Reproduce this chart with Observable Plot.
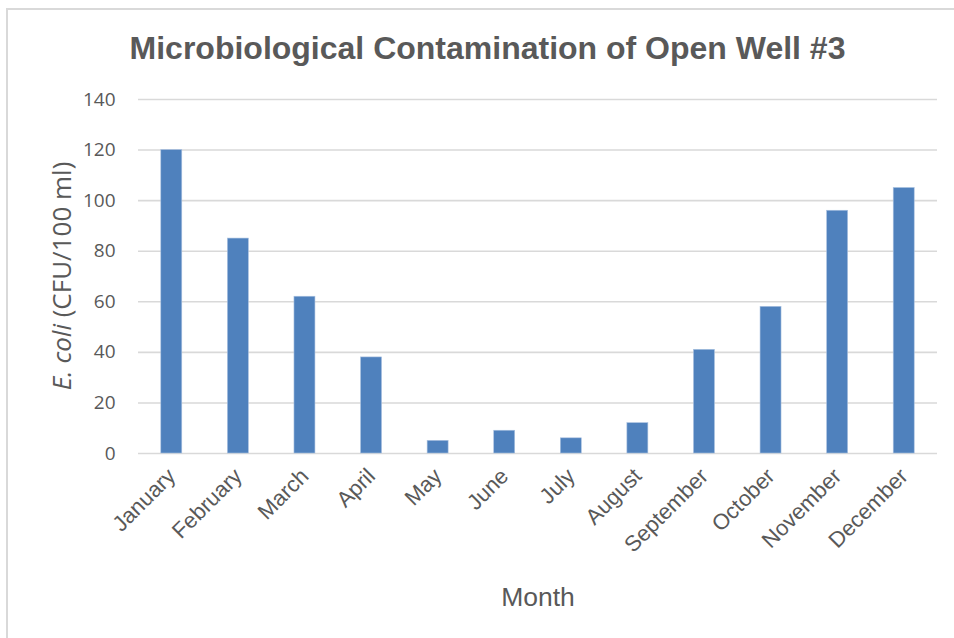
<!DOCTYPE html>
<html>
<head>
<meta charset="utf-8">
<script src="https://cdn.jsdelivr.net/npm/d3@7"></script>
<script src="https://cdn.jsdelivr.net/npm/@observablehq/plot@0.6"></script>
<style>
  html, body { margin: 0; padding: 0; background: #fff; }
  #chart { position: relative; width: 954px; height: 638px; overflow: hidden; }
  #border { position: absolute; left: 6px; top: 8px; width: 1000px; height: 700px;
            border-left: 2px solid #d9d9d9; border-top: 2px solid #d9d9d9; }
  #chart svg { position: absolute; left: 0; top: 0; }
</style>
</head>
<body>
<div id="chart"><div id="border"></div></div>
<script>
// Monthly E. coli counts at Open Well #3
const months = ["January", "February", "March", "April", "May", "June",
                "July", "August", "September", "October", "November", "December"];
const ecoli = [120, 85, 62, 38, 5, 9, 6, 12, 41, 58, 96, 105];
const yTicks = [0, 20, 40, 60, 80, 100, 120, 140];

const title = "Microbiological Contamination of Open Well #3";
const xLabel = "Month";

const data = months.map((m, i) => ({month: m, value: ecoli[i]}));

const W = 954, H = 638;
const M = {top: 99, right: 17, bottom: 185, left: 138};
const grey = "#595959";
const gap = 0.685; // share of each category slot left empty
const sans = "'Liberation Sans', Arial, sans-serif";

const plot = Plot.plot({
  width: W,
  height: H,
  marginTop: M.top,
  marginRight: M.right,
  marginBottom: M.bottom,
  marginLeft: M.left,
  style: {background: "transparent", fontFamily: sans, color: grey},
  x: {domain: months, paddingInner: gap, paddingOuter: gap / 2, round: false, label: null},
  y: {domain: [0, 140], label: null},
  marks: [
    Plot.ruleY(yTicks, {stroke: "#d9d9d9", strokeWidth: 1.6}),
    Plot.barY(data, {x: "month", y: "value", fill: "#4f81bd", stroke: "#a9c1e0", strokeWidth: 0.6}),
    Plot.axisY(yTicks, {
      tickSize: 0, tickPadding: 23, fontSize: 19, fill: grey,
      fontFamily: "'Open Sans', 'Noto Sans', sans-serif", label: null
    }),
    Plot.axisX({
      tickSize: 0, tickRotate: -45, tickPadding: 19, fontSize: 22, fill: grey,
      fontFamily: sans, label: null
    }),
    Plot.text([title], {
      frameAnchor: "top", lineAnchor: "top", dy: -63, dx: -50.5,
      fontSize: 32, fontWeight: "bold", fill: grey, fontFamily: sans
    }),
    Plot.text([xLabel], {
      frameAnchor: "bottom", lineAnchor: "bottom", dy: 152, fontSize: 26.5, fill: grey,
      fontFamily: sans
    })
  ]
});

document.getElementById("chart").appendChild(plot);

// Y-axis title with the italic organism name
const cy = M.top + (H - M.top - M.bottom) / 2;
const yTitle = d3.select(plot).append("text")
  .attr("transform", `translate(71,${cy}) rotate(-90)`)
  .attr("text-anchor", "middle")
  .attr("fill", grey)
  .attr("font-size", 26)
  .attr("font-family", "'Open Sans', 'Noto Sans', sans-serif");
yTitle.append("tspan").attr("font-style", "italic").text("E. coli");
yTitle.append("tspan").text(" (CFU/100 ml)");
</script>
</body>
</html>
